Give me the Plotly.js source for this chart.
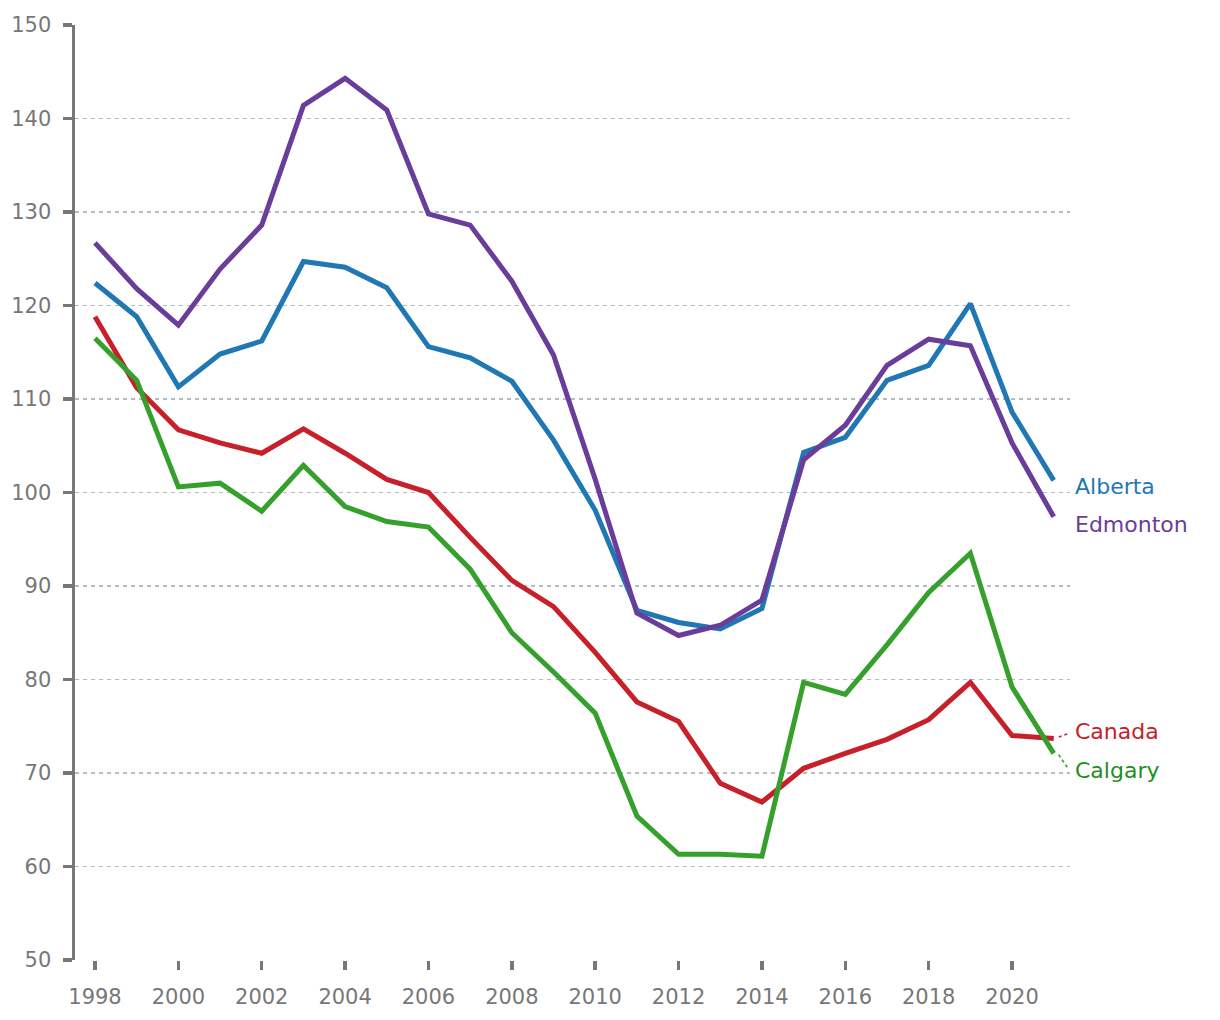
<!DOCTYPE html>
<html>
<head>
<meta charset="utf-8">
<script src="https://cdn.plot.ly/plotly-3.0.1.min.js"></script>
<style>
  html, body { margin: 0; padding: 0; background: #ffffff; }
  #chart { width: 1220px; height: 1020px; }
</style>
</head>
<body>
<div id="chart"></div>
<script>
const years = [1998, 1999, 2000, 2001, 2002, 2003, 2004, 2005, 2006, 2007, 2008, 2009,
               2010, 2011, 2012, 2013, 2014, 2015, 2016, 2017, 2018, 2019, 2020, 2021];

const alberta  = [122.4, 118.8, 111.3, 114.8, 116.2, 124.7, 124.1, 121.9, 115.6, 114.4, 111.9, 105.6,
                  98.1, 87.4, 86.1, 85.4, 87.6, 104.3, 105.9, 112.0, 113.6, 120.2, 108.6, 101.3];
const edmonton = [126.7, 121.8, 117.9, 123.9, 128.6, 141.4, 144.3, 140.9, 129.8, 128.6, 122.6, 114.7,
                  101.4, 87.1, 84.7, 85.8, 88.5, 103.5, 107.2, 113.6, 116.4, 115.7, 105.3, 97.4];
const canada   = [118.8, 111.2, 106.7, 105.3, 104.2, 106.8, 104.2, 101.4, 100.0, 95.2, 90.6, 87.8,
                  82.9, 77.6, 75.5, 68.9, 66.9, 70.5, 72.1, 73.6, 75.7, 79.7, 74.0, 73.7];
const calgary  = [116.5, 112.0, 100.6, 101.0, 98.0, 102.9, 98.5, 96.9, 96.3, 91.8, 85.0, 80.8,
                  76.4, 65.4, 61.3, 61.3, 61.1, 79.7, 78.4, 83.7, 89.3, 93.5, 79.2, 72.1];

const seriesNames = ['Alberta', 'Edmonton', 'Canada', 'Calgary'];
const seriesData = [alberta, edmonton, canada, calgary];
const lineColors = ['#1f77b4', '#6a3d9a', '#c8202a', '#35a02c'];
const labelColors = ['#1f77b4', '#6a3d9a', '#c8202a', '#1f8f1f'];
// label vertical positions (value units) for the end labels
const labelY = [100.6, 96.6, 74.4, 70.3];

const xTicks = [1998, 2000, 2002, 2004, 2006, 2008, 2010, 2012, 2014, 2016, 2018, 2020];
const yTicks = [50, 60, 70, 80, 90, 100, 110, 120, 130, 140, 150];

const FONT = '"DejaVu Sans", Verdana, sans-serif';
const X_RANGE = [1997.52, 2021.39];

const traces = seriesData.map((vals, i) => ({
  type: 'scatter',
  mode: 'lines',
  x: years,
  y: vals,
  name: seriesNames[i],
  line: { color: lineColors[i], width: 5 },
  hoverinfo: 'x+y+name'
}));

const lastYear = years[years.length - 1];
// paper x position just right of the plot edge for the end labels
const labelPaperX = 1.003;
const annotations = seriesNames.map((n, i) => ({
  x: labelPaperX,
  y: labelY[i],
  xref: 'paper', yref: 'y',
  text: n,
  showarrow: false,
  xanchor: 'left',
  yanchor: 'middle',
  font: { family: FONT, size: 22, color: labelColors[i] }
}));

// dotted leader lines for Canada and Calgary
const shapes = [2, 3].map(i => {
  const last = seriesData[i][seriesData[i].length - 1];
  const up = labelY[i] > last;
  return {
    type: 'line', xref: 'x', yref: 'y',
    x0: lastYear + 0.12, y0: last + (up ? 0.15 : -0.15),
    x1: lastYear + 0.34, y1: labelY[i] + (up ? -0.2 : 0.2),
    line: { color: lineColors[i], width: 1.6, dash: 'dot' }
  };
});

const layout = {
  width: 1220,
  height: 1020,
  margin: { l: 75, r: 150, t: 25, b: 60 },
  paper_bgcolor: '#ffffff',
  plot_bgcolor: '#ffffff',
  showlegend: false,
  font: { family: FONT, color: '#777777' },
  xaxis: {
    range: X_RANGE,
    tickmode: 'array',
    tickvals: xTicks,
    ticktext: xTicks.map(String),
    ticks: 'outside',
    ticklen: 9,
    tickwidth: 3.5,
    tickcolor: '#777777',
    ticklabelstandoff: 9,
    showgrid: false,
    zeroline: false,
    showline: false,
    tickfont: { family: FONT, size: 21, color: '#777777' }
  },
  yaxis: {
    range: [50, 150],
    tickmode: 'array',
    tickvals: yTicks,
    ticktext: yTicks.map(String),
    ticks: 'outside',
    ticklen: 9,
    tickwidth: 3.5,
    tickcolor: '#777777',
    ticklabelstandoff: 7,
    showline: true,
    linecolor: '#777777',
    linewidth: 3.5,
    showgrid: true,
    gridcolor: '#b3bcc1',
    gridwidth: 1.4,
    griddash: '4px,4px',
    zeroline: false,
    tickfont: { family: FONT, size: 21, color: '#777777' }
  },
  annotations: annotations,
  shapes: shapes
};

Plotly.newPlot('chart', traces, layout, { displayModeBar: false, staticPlot: true });
</script>
</body>
</html>
